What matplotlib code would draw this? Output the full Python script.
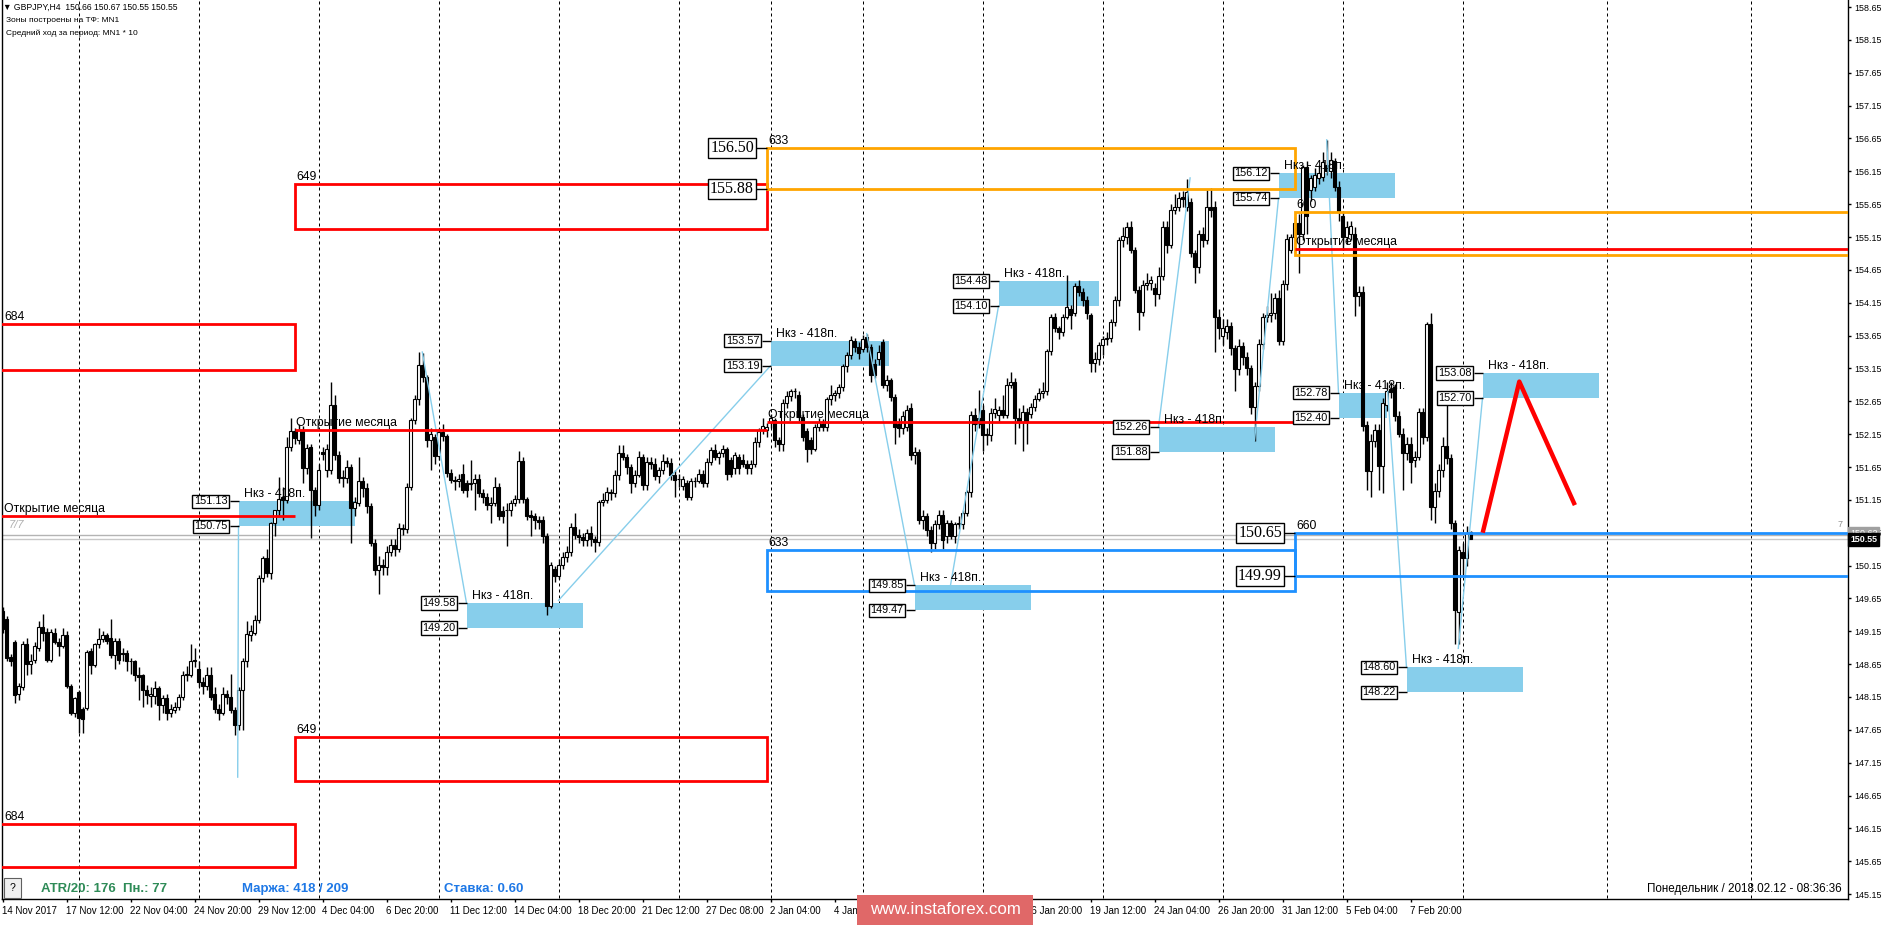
import numpy as np
import matplotlib
matplotlib.use("Agg")
import matplotlib.pyplot as plt
from matplotlib.patches import Rectangle

plt.rcParams['font.family'] = ['Liberation Sans', 'DejaVu Sans']

# ---------------- data ----------------
opens = [
149.46,149.34,148.76,148.99,148.20,148.30,148.95,148.65,148.71,148.89,
149.21,149.14,148.71,149.12,148.99,148.92,149.10,148.31,147.90,148.22,
147.97,147.98,148.85,148.64,148.95,149.03,149.09,149.05,148.79,149.00,
148.82,148.82,148.69,148.69,148.48,148.48,148.26,148.16,148.16,148.28,
148.03,148.13,147.91,147.95,148.00,148.15,148.48,148.48,148.69,148.57,
148.38,148.31,148.48,148.20,147.97,147.91,148.20,148.15,147.95,147.72,
148.26,148.69,149.10,149.12,149.32,149.96,150.26,150.03,150.80,150.99,
151.20,151.15,151.96,152.20,152.06,
152.22,151.63,151.95,151.30,151.07,
151.88,151.60,151.60,152.60,151.83,151.50,151.48,151.65,151.02,151.10,
151.43,151.33,151.05,150.50,150.08,150.16,150.13,150.36,150.46,150.40,
150.72,150.70,151.35,152.36,152.68,153.20,153.02,152.06,152.10,151.81,
152.18,152.12,151.56,151.45,151.44,151.55,151.40,151.39,151.40,151.47,
151.26,151.20,151.07,151.10,151.35,150.98,150.99,151.00,151.10,151.17,
151.74,151.17,150.92,150.90,150.84,150.85,150.60,149.53,150.10,149.99,
150.16,150.28,150.35,150.74,150.61,150.59,150.54,150.64,150.55,150.51,
151.12,151.15,151.27,151.25,151.53,151.86,151.80,151.65,151.40,151.53,
151.80,151.38,151.73,151.70,151.51,151.60,151.74,151.71,151.53,151.47,
151.36,151.40,151.20,151.43,151.44,151.55,151.40,151.73,151.91,151.80,
151.86,151.92,151.75,151.63,151.80,151.75,151.70,151.63,151.70,152.03,
152.21,152.21,152.34,152.36,152.06,152.00,152.62,152.73,152.80,152.74,
152.41,152.20,152.06,151.93,152.26,152.30,152.26,152.69,152.74,152.77,
152.87,153.18,153.35,153.57,153.48,153.45,153.63,153.48,153.22,153.30,
153.55,152.90,152.97,
152.72,152.30,152.24,152.26,152.55,151.83,151.88,
150.84,150.90,150.69,150.49,150.79,150.92,150.60,150.80,150.60,150.79,
150.78,150.95,151.27,152.44,152.40,152.52,152.16,152.14,152.47,152.44,
152.52,152.44,152.90,152.95,152.40,152.34,152.49,152.46,152.57,152.69,
152.77,152.80,153.41,153.94,153.76,153.70,153.94,154.06,153.99,154.40,
154.32,154.19,153.96,153.23,153.30,153.50,153.60,153.62,153.86,154.19,
155.10,155.15,155.31,154.96,154.34,154.01,154.42,154.45,154.37,154.28,
154.55,155.31,155.03,155.56,155.60,155.76,155.60,155.69,154.90,154.69,
155.20,155.10,155.60,155.61,153.93,153.65,153.70,153.79,153.46,153.14,
153.49,153.33,153.16,152.57,152.89,153.52,153.93,153.96,154.00,154.22,
153.57,154.44,154.96,155.15,155.37,155.20,156.21,155.86,155.91,156.05,
156.07,156.24,156.15,156.30,155.91,155.47,155.15,155.20,155.20,154.25,
154.31,152.29,151.59,152.05,152.21,151.67,152.59,152.84,152.87,152.43,
152.16,151.86,152.00,151.75,151.80,152.49,152.10,153.82,151.04,151.29,
151.61,151.97,151.78,150.80,149.44,150.36,150.26,150.66]

highs = [
149.52,149.38,148.80,149.02,148.36,149.00,149.05,148.80,148.98,149.30,
149.42,149.20,149.18,149.20,149.05,149.20,149.15,148.35,148.15,148.25,
148.00,148.86,148.90,148.97,149.20,149.15,149.12,149.33,149.05,149.05,
148.90,148.86,148.75,148.72,148.60,148.50,148.33,148.30,148.40,148.32,
148.18,148.20,148.05,148.08,148.20,148.55,148.62,148.95,148.90,148.70,
148.45,148.60,148.60,148.30,148.05,148.30,148.25,148.50,148.00,148.30,
148.75,149.30,149.25,149.40,150.00,150.30,150.40,150.82,151.00,151.50,
151.35,152.10,152.40,152.25,152.30,
152.28,152.00,152.00,151.35,151.70,
151.95,152.00,152.94,152.75,151.90,151.60,151.75,151.70,151.20,151.80,
151.50,151.40,151.10,150.55,150.30,150.25,150.45,150.55,150.55,150.80,
150.78,151.40,152.40,152.75,153.40,153.39,153.05,152.25,152.15,152.25,
152.30,152.15,151.62,151.52,151.55,151.70,151.45,151.75,151.55,151.55,
151.32,151.25,151.20,151.50,151.40,151.05,151.10,151.15,151.22,151.90,
151.80,151.20,151.00,150.95,150.90,150.90,150.65,150.20,150.15,150.25,
150.35,150.45,150.80,150.95,150.70,150.65,150.70,150.75,150.60,151.15,
151.25,151.35,151.32,151.60,151.99,151.99,151.85,151.70,151.60,151.90,
151.85,151.80,151.80,151.78,151.65,151.85,151.80,151.78,151.60,151.55,
151.52,151.45,151.48,151.50,151.62,151.60,151.78,151.95,152.00,151.90,
151.98,151.95,151.80,151.88,151.85,151.85,151.75,151.75,152.10,152.25,
152.40,152.32,152.45,152.40,152.10,152.68,152.80,152.83,152.85,152.80,
152.45,152.25,152.10,152.30,152.40,152.38,152.72,152.90,152.82,152.92,
153.22,153.40,153.64,153.62,153.55,153.66,153.68,153.52,153.30,153.50,
153.60,153.05,153.00,
152.76,152.40,152.50,152.60,152.62,151.95,151.92,
151.00,150.95,150.75,150.85,151.00,151.00,150.85,150.85,150.82,150.90,
151.00,151.30,152.50,152.55,152.82,152.60,152.25,152.55,152.70,152.58,
152.75,153.00,153.10,153.00,152.55,152.60,152.55,152.62,152.75,152.85,
152.95,153.45,153.98,154.00,153.80,153.98,154.57,154.12,154.45,154.50,
154.38,154.25,154.00,153.40,153.55,153.65,153.70,153.90,154.25,155.15,
155.30,155.38,155.40,155.00,154.40,154.50,154.60,154.55,154.45,154.70,
155.40,155.40,155.65,155.80,155.83,155.85,156.03,155.75,154.95,155.25,
155.30,155.86,155.90,155.70,154.05,153.90,153.90,153.85,153.50,153.60,
153.55,153.40,153.20,152.95,153.60,154.00,154.10,154.30,154.30,154.35,
154.50,155.20,155.20,155.45,155.50,156.25,156.30,156.10,156.20,156.25,
156.45,156.62,156.45,156.35,156.00,155.55,155.40,155.40,155.30,154.40,
154.40,152.35,152.15,152.30,152.30,152.70,152.95,152.95,152.92,152.50,
152.25,152.10,152.10,151.90,152.55,152.55,153.85,154.00,151.40,151.70,
152.10,152.70,151.85,150.85,150.45,150.50,150.75,150.67]

lows = [
149.12,148.70,148.62,148.06,148.10,148.25,148.48,148.50,148.66,148.85,
149.00,148.68,148.68,148.95,148.78,148.90,148.28,147.88,147.85,147.60,
147.60,147.95,148.50,148.60,148.90,148.98,148.95,148.75,148.58,148.65,
148.70,148.55,148.50,148.40,148.10,148.00,148.05,148.00,148.05,147.80,
147.90,147.80,147.85,147.90,147.95,148.10,148.40,148.45,148.60,148.30,
148.20,148.25,148.10,147.90,147.80,147.88,148.05,147.90,147.57,147.65,
147.65,148.60,149.00,149.10,149.28,149.90,149.98,149.95,150.60,150.90,
150.85,151.10,151.90,152.00,152.00,
151.40,151.55,150.57,150.90,151.00,
151.75,151.50,151.55,151.75,151.40,151.35,151.40,150.50,150.90,151.05,
151.20,150.95,150.45,150.00,149.72,150.00,150.00,150.30,150.30,150.35,
150.62,150.65,151.30,152.30,152.60,152.95,151.95,151.60,151.70,151.75,
152.05,151.50,151.40,151.30,151.35,151.25,151.20,151.30,151.00,151.20,
151.10,151.00,150.80,151.05,150.85,150.80,150.45,150.90,151.05,151.10,
151.10,150.85,150.60,150.70,150.70,150.50,149.40,149.50,149.90,149.95,
150.10,150.20,150.30,150.55,150.50,150.45,150.45,150.45,150.35,150.45,
151.05,151.10,151.15,151.20,151.45,151.75,151.55,151.25,151.35,151.50,
151.30,151.30,151.62,151.45,151.40,151.55,151.65,151.45,151.20,151.35,
151.30,151.15,151.15,151.35,151.40,151.35,151.35,151.68,151.75,151.70,
151.80,151.45,151.50,151.55,151.55,151.65,151.55,151.55,151.65,151.95,
152.15,152.10,152.25,151.95,151.90,151.90,152.55,152.65,152.70,152.35,
152.05,151.73,151.85,151.90,152.20,152.20,152.20,152.60,152.65,152.70,
152.80,153.10,153.30,153.40,153.30,153.40,153.40,152.95,153.00,153.20,
152.85,152.80,152.65,
152.00,152.10,152.15,152.20,151.75,151.70,150.78,
150.70,150.60,150.35,150.40,150.70,150.40,150.50,150.55,150.50,150.70,
150.70,150.90,151.20,152.20,152.25,151.90,151.98,152.05,152.40,152.35,
152.40,152.40,152.85,152.00,152.25,151.90,152.00,152.40,152.50,152.65,
152.70,152.75,153.35,153.70,153.60,153.65,153.90,153.75,153.95,154.25,
154.10,153.90,153.10,153.10,153.20,153.35,153.50,153.55,153.80,154.10,
155.00,155.05,154.90,154.30,153.73,153.95,154.35,154.35,154.10,154.20,
154.50,154.90,154.98,155.50,155.55,155.60,155.55,154.85,154.45,154.60,
155.00,155.05,155.45,153.40,153.60,153.50,153.60,153.35,152.80,153.05,
153.20,153.05,152.45,152.05,152.80,153.45,153.85,153.85,153.90,153.50,
153.50,154.35,154.90,155.05,154.60,155.10,155.20,155.70,155.85,155.95,
156.00,156.10,156.05,155.85,155.40,154.95,155.05,155.10,153.95,154.10,
152.20,151.30,151.20,151.95,151.30,151.25,152.50,152.70,152.35,152.10,
151.30,151.75,151.40,151.65,151.75,152.00,152.05,150.84,150.80,151.20,
151.50,151.70,150.70,148.95,148.95,150.00,150.15,150.55]

closes = [
149.19,148.74,148.70,148.18,148.31,148.96,148.65,148.70,148.92,149.22,
149.13,148.71,149.14,148.99,148.92,149.09,148.31,147.90,148.13,147.83,
147.82,148.84,148.64,148.95,149.03,149.09,149.00,148.79,149.00,148.71,
148.80,148.69,148.70,148.48,148.46,148.26,148.18,148.19,148.28,148.03,
148.13,147.91,147.97,148.00,148.15,148.48,148.49,148.69,148.72,148.38,
148.32,148.48,148.15,147.97,147.91,148.20,148.15,147.95,147.72,148.26,
148.69,149.11,149.15,149.32,149.96,150.26,150.03,150.80,150.99,151.17,
151.15,151.96,152.20,152.09,152.22,
151.63,151.94,151.30,151.07,151.60,
151.85,151.93,152.60,151.83,151.48,151.48,151.65,151.02,151.12,151.43,
151.33,151.05,150.50,150.08,150.16,150.13,150.36,150.46,150.40,150.72,
150.70,151.35,152.36,152.68,153.20,153.02,152.06,152.16,151.81,152.18,
152.12,151.56,151.45,151.44,151.46,151.30,151.30,151.40,151.47,151.26,
151.20,151.07,151.10,151.35,150.90,150.90,151.00,151.10,151.17,151.74,
151.17,150.90,150.89,150.84,150.82,150.60,149.53,150.16,149.99,150.16,
150.28,150.35,150.74,150.61,150.59,150.54,150.64,150.55,150.51,151.12,
151.15,151.27,151.25,151.53,151.86,151.80,151.65,151.40,151.53,151.80,
151.38,151.73,151.70,151.51,151.60,151.74,151.71,151.53,151.45,151.46,
151.47,151.20,151.43,151.44,151.55,151.40,151.73,151.91,151.80,151.86,
151.92,151.54,151.55,151.83,151.63,151.70,151.63,151.70,152.03,152.21,
152.27,152.26,152.39,152.06,152.00,152.62,152.73,152.80,152.80,152.41,
152.11,151.93,151.93,152.26,152.34,152.26,152.69,152.74,152.77,152.87,
153.18,153.35,153.58,153.48,153.38,153.60,153.48,153.05,153.05,153.40,
152.90,152.97,152.72,
152.26,152.24,152.42,152.52,151.83,151.88,150.84,
150.90,150.69,150.49,150.79,150.92,150.54,150.80,150.60,150.79,150.80,
150.95,151.27,152.44,152.30,152.30,152.14,152.14,152.47,152.53,152.52,
152.44,152.90,152.95,152.40,152.35,152.49,152.34,152.57,152.69,152.77,
152.80,153.41,153.94,153.76,153.70,153.94,154.09,153.97,154.40,154.32,
154.19,153.99,153.23,153.30,153.50,153.60,153.62,153.86,154.19,155.10,
155.16,155.31,154.96,154.34,154.01,154.42,154.45,154.50,154.28,154.55,
155.31,155.03,155.56,155.60,155.74,155.73,155.83,154.90,154.69,155.20,
155.10,155.61,155.56,153.93,153.76,153.76,153.79,153.46,153.14,153.49,
153.33,153.16,152.57,152.89,153.52,153.93,153.96,154.00,154.22,153.57,
154.44,155.12,155.15,155.37,155.20,156.21,155.47,156.05,156.10,156.13,
156.29,156.15,156.32,155.91,155.53,155.15,155.31,155.32,154.25,154.31,
152.27,151.59,152.05,152.21,151.67,152.62,152.81,152.79,152.43,152.16,
151.86,152.00,151.72,151.80,152.49,152.10,153.82,151.04,151.29,151.61,
151.97,151.78,150.80,149.47,150.39,150.26,150.64,150.55]

time_label_bars = [0, 16, 32, 48, 64, 80, 96, 112, 128, 144, 160, 176, 192,
                   208, 224, 240, 256, 272, 288, 304, 320, 336, 352]
time_labels = ["14 Nov 2017", "17 Nov 12:00", "22 Nov 04:00", "24 Nov 20:00",
               "29 Nov 12:00", "4 Dec 04:00", "6 Dec 20:00", "11 Dec 12:00",
               "14 Dec 04:00", "18 Dec 20:00", "21 Dec 12:00", "27 Dec 08:00",
               "2 Jan 04:00", "4 Jan 20:00", "9 Jan 12:00", "12 Jan 04:00",
               "16 Jan 20:00", "19 Jan 12:00", "24 Jan 04:00", "26 Jan 20:00",
               "31 Jan 12:00", "5 Feb 04:00", "7 Feb 20:00"]
week_grid_bars = [19, 49, 79, 109, 139, 169, 192, 215, 245, 275, 305, 335, 365, 401, 437]
price_ticks = [145.15 + 0.5 * k for k in range(28)]

# monthly zones (bar start, bar end, low, high, label)
red_zone_start = [-2, -2, 73, 73]
red_zone_end = [73, 73, 191, 191]
red_zone_low = [153.13, 145.56, 155.27, 146.87]
red_zone_high = [153.83, 146.21, 155.96, 147.54]
red_zone_label = ["684", "684", "649", "649"]

orange_zone_start = [191, 323]
orange_zone_end = [323, 470]
orange_zone_low = [155.88, 154.88]
orange_zone_high = [156.50, 155.53]
orange_zone_label = ["633", "660"]

blue_zone_start = [191, 323]
blue_zone_end = [323, 470]
blue_zone_low = [149.76, 149.99]
blue_zone_high = [150.38, 150.65]
blue_zone_label = ["633", "660"]

month_open_start = [-2, 73, 191, 323]
month_open_end = [73, 191, 323, 470]
month_open_price = [150.90, 152.22, 152.34, 154.97]

nkz_left = [59, 116, 192, 228, 249, 289, 319, 334, 351, 370]
nkz_right = [88, 145, 221.5, 257, 274, 318, 348, 346, 380, 399]
nkz_top = [151.13, 149.58, 153.57, 149.85, 154.48, 152.26, 156.12, 152.78, 148.60, 153.08]
nkz_bottom = [150.75, 149.20, 153.19, 149.47, 154.10, 151.88, 155.74, 152.40, 148.22, 152.70]

link_x0 = [58.8, 104.95, 139, 216.05, 237, 289, 313, 331.05, 346.3, 363.95]
link_p0 = [146.93, 153.40, 149.62, 153.68, 149.85, 152.26, 152.05, 156.63, 152.80, 148.89]
link_x1 = [59, 116, 192, 228, 249, 296.9, 319, 334, 351, 370]
link_p1 = [150.75, 149.58, 153.19, 149.85, 154.10, 156.05, 155.74, 152.78, 148.60, 152.70]

forecast_x = [370.05, 379.2, 393.1]
forecast_p = [150.65, 152.95, 151.07]

bid, ask = 150.55, 150.62

# ---------------- figure ----------------
W, H = 1889, 925
fig = plt.figure(figsize=(W / 100, H / 100), dpi=100)
fig.patch.set_facecolor('white')
AXL, AXR, AXT, AXB = 1.5, 1848.0, 0.0, 899.0
ax = fig.add_axes([AXL / W, 1 - AXB / H, (AXR - AXL) / W, (AXB - AXT) / H])
ax.set_facecolor('white')
ax.set_xlim(-0.25, 461.375)
ax.set_ylim(145.075, 158.758)

PX = 0.72  # points per pixel
BAR = 4.0  # pixels per bar

ax.spines['top'].set_visible(False)
for s in ['left', 'right', 'bottom']:
    ax.spines[s].set_linewidth(1.0)
    ax.spines[s].set_color('black')

# weekly dashed grid
ax.vlines(week_grid_bars, 145.0, 159.0, colors='black', linewidth=PX,
          linestyles=(0, (3, 3)), zorder=1)

# ask / bid lines
ax.axhline(ask, color='#b4b4b4', lw=1.0, zorder=1.5)
ax.axhline(bid, color='#c8c8c8', lw=1.0, zorder=1.5)

# Nkz zones (background)
for l, r, t, b in zip(nkz_left, nkz_right, nkz_top, nkz_bottom):
    ax.add_patch(Rectangle((l, b), r - l, t - b, facecolor='#87ceeb',
                           edgecolor='none', zorder=2))

# candles
o = np.array(opens); h = np.array(highs); lo = np.array(lows); c = np.array(closes)
x = np.arange(len(c))
up = c >= o
ax.vlines(x, lo, h, colors='black', linewidth=1.0, zorder=3)
ax.bar(x[up], np.maximum(c[up] - o[up], 0.012), bottom=o[up], width=0.55,
       facecolor='white', edgecolor='black', linewidth=0.8, zorder=3.2)
ax.bar(x[~up], np.maximum(o[~up] - c[~up], 0.012), bottom=c[~up], width=0.55,
       facecolor='black', edgecolor='black', linewidth=0.8, zorder=3.2)

# connecting thin lines
for a0, p0, a1, p1 in zip(link_x0, link_p0, link_x1, link_p1):
    ax.plot([a0, a1], [p0, p1], color='#87ceeb', lw=1.0, zorder=4)

def zone_label(txt, xb, p):
    ax.annotate(txt, xy=(xb, p), xytext=(2 * PX, 4 * PX), textcoords='offset points',
                ha='left', va='baseline', fontsize=8.8, color='black', zorder=6)

for s, e, lw_, hi, lab in zip(red_zone_start, red_zone_end, red_zone_low, red_zone_high, red_zone_label):
    ax.add_patch(Rectangle((s, lw_), e - s, hi - lw_, fill=False, edgecolor='red',
                           linewidth=2.0, zorder=4.5))
    zone_label(lab, max(s, 0), hi)

for s, e, lw_, hi, lab in zip(orange_zone_start, orange_zone_end, orange_zone_low, orange_zone_high, orange_zone_label):
    ax.add_patch(Rectangle((s, lw_), e - s, hi - lw_, fill=False, edgecolor='#ffa500',
                           linewidth=2.0, zorder=4.5))
    zone_label(lab, s, hi)

for s, e, lw_, hi, lab in zip(blue_zone_start, blue_zone_end, blue_zone_low, blue_zone_high, blue_zone_label):
    ax.add_patch(Rectangle((s, lw_), e - s, hi - lw_, fill=False, edgecolor='#1e90ff',
                           linewidth=2.0, zorder=4.5))
    zone_label(lab, s, hi)

# month open lines
for s, e, p in zip(month_open_start, month_open_end, month_open_price):
    ax.hlines(p, s, e, colors='red', linewidth=2.0, zorder=4.6)
    ax.annotate("Открытие месяца", xy=(max(s, 0), p), xytext=(1 * PX, 4 * PX),
                textcoords='offset points', ha='left', va='baseline',
                fontsize=8.8, color='black', zorder=6)

# big price labels at the January orange zone and February blue zone
big_labels = [(orange_zone_start[0], orange_zone_high[0]), (orange_zone_start[0], orange_zone_low[0]),
              (blue_zone_start[1], blue_zone_high[1]), (blue_zone_start[1], blue_zone_low[1])]
for xb, p in big_labels:
    gap = 10.5 / BAR
    ax.hlines(p, xb - gap, xb, colors='black', lw=1.0, zorder=5)
    ax.annotate(f"{p:.2f}", xy=(xb - gap, p), xytext=(-2 * PX, 0), textcoords='offset points',
                ha='right', va='center', fontsize=11.5, family=['Liberation Serif', 'DejaVu Serif'],
                zorder=6,
                bbox=dict(boxstyle='square,pad=0.12', fc='white', ec='black', lw=1.0))

# Nkz labels
for l, t, b in zip(nkz_left, nkz_top, nkz_bottom):
    gap = 9.0 / BAR
    for p in (t, b):
        ax.hlines(p, l - gap, l, colors='black', lw=1.0, zorder=5)
        ax.annotate(f"{p:.2f}", xy=(l - gap, p), xytext=(-2 * PX, 0), textcoords='offset points',
                    ha='right', va='center', fontsize=7.8, zorder=6,
                    bbox=dict(boxstyle='square,pad=0.15', fc='white', ec='black', lw=1.0))
    ax.annotate("Нкз - 418п.", xy=(l, t), xytext=(5 * PX, 4 * PX), textcoords='offset points',
                ha='left', va='baseline', fontsize=8.8, zorder=6)

# forecast zigzag
ax.plot(forecast_x, forecast_p, color='red', lw=3.2, solid_capstyle='butt', zorder=7)

# 7/7 text
ax.annotate("7/7", xy=(0, ask), xytext=(6 * PX, 5 * PX), textcoords='offset points',
            ha='left', va='bottom', fontsize=8, style='italic', color='#b0b0b0', zorder=6)
ax.annotate("7", xy=(1, ask), xycoords=('axes fraction', 'data'), xytext=(-10 * PX, 6 * PX),
            textcoords='offset points', ha='left', va='bottom', fontsize=6.5, color='#909090')

# axes ticks
ax.yaxis.tick_right()
ax.set_yticks(price_ticks)
ax.set_yticklabels([f"{v:.2f}" for v in price_ticks])
ax.tick_params(axis='y', direction='out', length=3 * PX, width=1.0, pad=2.5, labelsize=6.4)
ax.set_xticks(time_label_bars)
ax.set_xticklabels(time_labels, ha='left')
ax.tick_params(axis='x', direction='out', length=3 * PX, width=1.0, pad=3, labelsize=7)

# current price labels on the right axis
ax.annotate(f"{ask:.2f}", xy=(1, ask), xycoords=('axes fraction', 'data'), xytext=(2 * PX, 1.5 * PX),
            textcoords='offset points', ha='left', va='center', fontsize=6.4, color='white',
            bbox=dict(boxstyle='square,pad=0.2', fc='#a0a0a0', ec='#a0a0a0'), zorder=8,
            annotation_clip=False)
ax.annotate(f"{bid:.2f}", xy=(1, bid), xycoords=('axes fraction', 'data'), xytext=(2 * PX, 0),
            textcoords='offset points', ha='left', va='center', fontsize=6.4, color='white',
            weight='bold',
            bbox=dict(boxstyle='square,pad=0.25', fc='black', ec='black'), zorder=9,
            annotation_clip=False)

# header texts
def ftxt(xp, yp, s, **kw):
    fig.text(xp / W, 1 - yp / H, s, **kw)

ftxt(3, 7, "▼ GBPJPY,H4  150.66 150.67 150.55 150.55", fontsize=6.2, va='center', ha='left')
ftxt(6, 20.5, "Зоны построены на ТФ: MN1", fontsize=6.0, va='center', ha='left')
ftxt(6, 33, "Средний ход за период: MN1 * 10", fontsize=6.0, va='center', ha='left')

# status line
fig.add_artist(Rectangle((4 / W, 1 - 898 / H), 17 / W, 20 / H, transform=fig.transFigure,
                         fc='#f0f0f0', ec='#606060', lw=0.8))
ftxt(12.5, 888, "?", fontsize=7.5, va='center', ha='center')
ftxt(41, 889, "ATR/20: 176  Пн.: 77", fontsize=9.5, weight='bold', color='#2e8b57', va='center')
ftxt(242, 889, "Маржа: 418 / 209", fontsize=9.5, weight='bold', color='#1e78e6', va='center')
ftxt(444, 889, "Ставка: 0.60", fontsize=9.5, weight='bold', color='#1e78e6', va='center')
ftxt(1842, 889, "Понедельник / 2018.02.12 - 08:36:36", fontsize=8.4, color='black',
     va='center', ha='right')

# watermark (opaque box that hides the time labels beneath it, as in the source)
fig.add_artist(Rectangle((857 / W, 0), 176 / W, 30 / H, transform=fig.transFigure,
                         fc='#e06868', ec='none', alpha=1.0, zorder=20))
ftxt(945, 910, "www.instaforex.com", fontsize=12.2, color='white', va='center', ha='center',
     zorder=21)

fig.savefig("out.png", dpi=100, facecolor='white')
